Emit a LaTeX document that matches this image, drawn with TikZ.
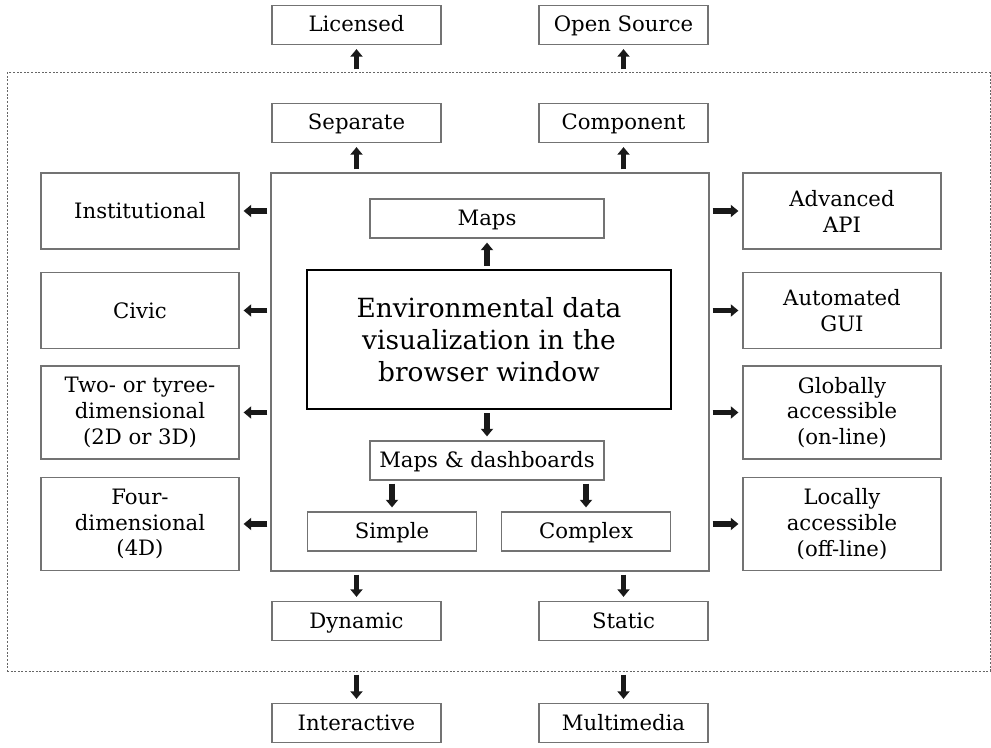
\documentclass[tikz,border=0pt]{standalone}
\usepackage{fontspec}
\setmainfont{DejaVu Serif}
\usetikzlibrary{arrows.meta}
\begin{document}
\begin{tikzpicture}[
    x=0.5pt, y=-0.5pt,
    box/.style={rectangle, draw=black!55, line width=0.6pt, minimum width=84.5pt, minimum height=19.5pt, inner sep=0pt, text height=8.6pt, text depth=1.6pt, text centered, align=center, font=\fontsize{10.6}{13}\selectfont},
    side/.style={box, minimum width=99pt, minimum height=38pt, text height=, text depth=},
    tall/.style={side, minimum height=46.5pt, font=\fontsize{10.6}{12.8}\selectfont},
    inner/.style={box, minimum width=117pt},
    main/.style={rectangle, draw=black, line width=1.1pt, minimum width=182pt, minimum height=69.5pt, align=center, font=\fontsize{13.2}{16}\selectfont},
    panel/.style={rectangle, draw=black!55, line width=0.6pt, minimum width=219pt, minimum height=199pt, inner sep=0pt},
    frame/.style={rectangle, draw=black!60, line width=0.5pt, dash pattern=on 1pt off 0.8pt, minimum width=491.5pt, minimum height=299pt, inner sep=0pt},
    arrow/.style={-{Triangle[width=6pt,length=3.8pt]}, line width=2.6pt, black!90, shorten <=1.5pt, shorten >=2pt}
]
\useasboundingbox (0,0) rectangle (991,748);

\node[frame] (frame) at (498.5,372) {};
\node[panel] (panel) at (490,372) {};

\node[box] (lic) at (356.5,25) {Licensed};
\node[box] (open) at (623.5,25) {Open Source};
\node[box] (sep) at (356.5,123) {Separate};
\node[box] (comp) at (623.5,123) {Component};

\node[inner] (maps) at (487,218.5) {Maps};
\node[main] (env) at (489,339.5) {Environmental data\\visualization in the\\browser window};
\node[inner] (dash) at (487,460.5) {Maps \& dashboards};
\node[box] (simple) at (392,531.5) {Simple};
\node[box] (complex) at (586,531.5) {Complex};

\node[side] (inst) at (140,211) {Institutional};
\node[side] (civic) at (140,310.5) {Civic};
\node[tall] (two) at (140,412.5) {Two- or tyree-\\dimensional\\(2D or 3D)};
\node[tall] (four) at (140,524) {Four-\\dimensional\\(4D)};

\node[side] (api) at (842,211) {Advanced\\API};
\node[side] (gui) at (842,310.5) {Automated\\GUI};
\node[tall] (glob) at (842,412.5) {Globally\\accessible\\(on-line)};
\node[tall] (loc) at (842,524) {Locally\\accessible\\(off-line)};

\node[box] (dyn) at (356.5,621) {Dynamic};
\node[box] (static) at (623.5,621) {Static};
\node[box] (inter) at (356.5,723) {Interactive};
\node[box] (multi) at (623.5,723) {Multimedia};

\draw[arrow] (frame.north -| lic) -- (lic);
\draw[arrow] (frame.north -| open) -- (open);
\draw[arrow] (panel.north -| sep) -- (sep);
\draw[arrow] (panel.north -| comp) -- (comp);
\draw[arrow] (env.north -| maps) -- (maps);
\draw[arrow] (env.south -| dash) -- (dash);
\draw[arrow] (dash.south -| simple) -- (simple);
\draw[arrow] (dash.south -| complex) -- (complex);
\foreach \n in {inst,civic,two,four}
    \draw[arrow] (panel.west |- \n) -- (\n);
\foreach \n in {api,gui,glob,loc}
    \draw[arrow] (panel.east |- \n) -- (\n);
\draw[arrow] (panel.south -| dyn) -- (dyn);
\draw[arrow] (panel.south -| static) -- (static);
\draw[arrow] (frame.south -| inter) -- (inter);
\draw[arrow] (frame.south -| multi) -- (multi);

\end{tikzpicture}
\end{document}
